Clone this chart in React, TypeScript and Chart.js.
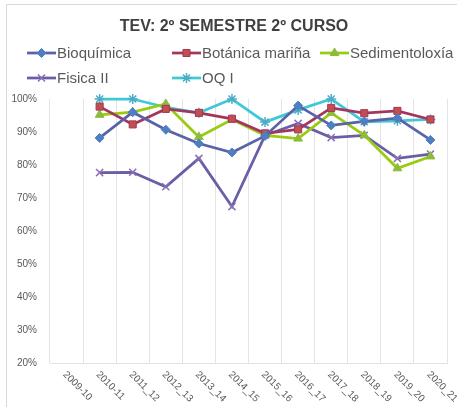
import React, { useEffect, useRef } from 'react';
import { Chart, registerables } from 'chart.js';
import { drawPoint } from 'chart.js/helpers';

Chart.register(...registerables);

const title = 'TEV: 2º SEMESTRE 2º CURSO';

const categories = [
  '2009-10', '2010-11', '2011_12', '2012_13', '2013_14', '2014_15',
  '2015_16', '2016_17', '2017_18', '2018_19', '2019_20', '2020_21',
];

const seriesNames = ['Bioquímica', 'Botánica mariña', 'Sedimentoloxía', 'Fisica II', 'OQ I'];

const bioquimica = [null, 88.2, 96.0, 90.7, 86.5, 83.8, 88.8, 98.0, 92.0, 93.2, 94.2, 87.6];
const botanica = [null, 97.7, 92.3, 97.0, 95.8, 94.0, 89.6, 90.8, 97.3, 95.7, 96.4, 93.8];
const sedimentoloxia = [null, 95.2, 96.0, 98.5, 88.5, 93.8, 89.0, 88.0, 95.8, 89.0, 79.0, 82.6];
const fisica = [null, 77.7, 77.8, 73.4, 82.0, 67.4, 89.0, 92.6, 88.3, 89.0, 82.0, 83.3];
const oqi = [null, 100, 100, 97.5, 95.8, 100, 93.0, 96.7, 100, 93.1, 93.4, 93.8];

const yMin = 20;
const yMax = 100;
const yStep = 10;

const styles = [
  { line: '#5A62A8', fill: '#4F7FC2', border: '#4F7FC2', point: 'rectRot', radius: 4.5, bw: 1 },
  { line: '#A3365E', fill: '#C0504D', border: '#A3365E', point: 'rect', radius: 5, bw: 1 },
  { line: '#99CC11', fill: '#8DBB3A', border: '#8DBB3A', point: 'triangle', radius: 5, bw: 1 },
  { line: '#6A5EA6', fill: 'rgba(0,0,0,0)', border: '#8A70B4', point: 'crossRot', radius: 5, bw: 1.5 },
  { line: '#40C8D6', fill: 'rgba(0,0,0,0)', border: '#4BACC6', point: 'star', radius: 5, bw: 1.5 },
];

const seriesData = [bioquimica, botanica, sedimentoloxia, fisica, oqi];

const legendPos = [
  { x: 27, y: 53 },
  { x: 172, y: 53 },
  { x: 320, y: 53 },
  { x: 27, y: 78 },
  { x: 172, y: 78 },
];

const FONT = '"Liberation Sans", Arial, sans-serif';

function drawMarker(ctx: CanvasRenderingContext2D, s: any, x: number, y: number) {
  ctx.save();
  ctx.fillStyle = s.fill;
  ctx.strokeStyle = s.border;
  ctx.lineWidth = s.bw;
  drawPoint(ctx, { pointStyle: s.point, radius: s.radius, rotation: 0, borderWidth: s.bw } as any, x, y);
  ctx.restore();
}

const decorPlugin = {
  id: 'decor',
  beforeDraw(chart: any) {
    const ctx = chart.ctx;
    ctx.save();
    ctx.fillStyle = '#ffffff';
    ctx.fillRect(0, 0, chart.width, chart.height);
    ctx.strokeStyle = '#D9D9D9';
    ctx.lineWidth = 1;
    ctx.beginPath();
    ctx.moveTo(6.5, chart.height);
    ctx.lineTo(6.5, 4.5);
    ctx.lineTo(chart.width, 4.5);
    ctx.stroke();
    ctx.restore();
  },
  afterDraw(chart: any) {
    const ctx = chart.ctx;
    ctx.save();
    // title
    ctx.fillStyle = '#404040';
    ctx.font = `bold 16px ${FONT}`;
    ctx.textAlign = 'center';
    ctx.textBaseline = 'middle';
    ctx.fillText(title, 234, 27);

    // legend
    ctx.font = `15px ${FONT}`;
    ctx.textAlign = 'left';
    chart.data.datasets.forEach((ds: any, i: number) => {
      const p = legendPos[i];
      const s = styles[i];
      ctx.strokeStyle = s.line;
      ctx.lineWidth = 2.75;
      ctx.beginPath();
      ctx.moveTo(p.x, p.y);
      ctx.lineTo(p.x + 29, p.y);
      ctx.stroke();
      drawMarker(ctx, s, p.x + 14.5, p.y);
      ctx.fillStyle = '#595959';
      ctx.fillText(ds.label, p.x + 30, p.y + 1);
    });

    // x labels rotated clockwise
    const xs = chart.scales.x;
    ctx.font = `10px ${FONT}`;
    ctx.fillStyle = '#595959';
    ctx.textAlign = 'left';
    ctx.textBaseline = 'middle';
    categories.forEach((c, i) => {
      const x = xs.getPixelForValue(i);
      ctx.save();
      ctx.translate(x - 2, chart.chartArea.bottom + 10);
      ctx.rotate(Math.PI / 4);
      ctx.fillText(c, 0, 0);
      ctx.restore();
    });
    ctx.restore();
  },
};

export default function App() {
  const ref = useRef<HTMLCanvasElement | null>(null);

  useEffect(() => {
    document.body.style.margin = '0';
    const canvas = ref.current;
    if (!canvas) return;
    const chart = new Chart(canvas, {
      type: 'line',
      data: {
        labels: categories,
        datasets: seriesData.map((d, i) => ({
          label: seriesNames[i],
          data: d,
          borderColor: styles[i].line,
          backgroundColor: styles[i].fill,
          borderWidth: 2.75,
          pointStyle: styles[i].point as any,
          pointRadius: styles[i].radius,
          pointBackgroundColor: styles[i].fill,
          pointBorderColor: styles[i].border,
          pointBorderWidth: styles[i].bw,
          tension: 0,
          clip: false as any,
          spanGaps: false,
        })),
      },
      options: {
        animation: false,
        responsive: false,
        maintainAspectRatio: false,
        layout: { padding: { top: 99, right: 10, left: 0, bottom: 0 } },
        plugins: {
          legend: { display: false },
          title: { display: false },
          tooltip: { enabled: false },
        },
        scales: {
          x: {
            type: 'category',
            offset: true,
            grid: { offset: true, color: '#E3E3E3', drawTicks: false, lineWidth: 1 },
            border: { display: true, color: '#E3E3E3' },
            ticks: { display: false },
            afterFit: (s: any) => { s.height = 44; },
          },
          y: {
            min: yMin,
            max: yMax,
            ticks: {
              stepSize: yStep,
              callback: (v: any) => `${v}%`,
              color: '#595959',
              font: { size: 10, family: FONT },
              padding: 13,
            },
            grid: { display: false, drawTicks: false },
            border: { display: false },
            afterFit: (s: any) => { s.width = 50; },
          },
        },
      },
      plugins: [decorPlugin],
    });
    return () => chart.destroy();
  }, []);

  return (
    <div style={{ width: 457, height: 407 }}>
      <canvas ref={ref} width={457} height={407} style={{ display: 'block', width: 457, height: 407 }} />
    </div>
  );
}
